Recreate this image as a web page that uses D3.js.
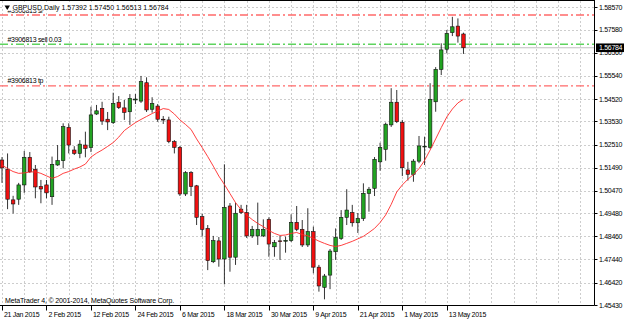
<!DOCTYPE html>
<html lang="en">
<head>
<meta charset="utf-8">
<title>GBPUSD Daily</title>
<script src="https://d3js.org/d3.v7.min.js"></script>
<style>
  body { margin: 0; background: #fff; }
  svg { display: block; }
  .lbl { font-family: "Liberation Sans", Arial, sans-serif; font-size: 7px; fill: #000; letter-spacing: -0.3px; }
  .title { letter-spacing: 0px; }
  .mark { letter-spacing: -0.15px; }
</style>
</head>
<body>
<svg width="625" height="320"></svg>
<script>
// trading days shown on the chart
const dates = [
  "2015-01-21","2015-01-22","2015-01-23","2015-01-26","2015-01-27","2015-01-28","2015-01-29","2015-01-30",
  "2015-02-02","2015-02-03","2015-02-04","2015-02-05","2015-02-06","2015-02-09","2015-02-10","2015-02-11",
  "2015-02-12","2015-02-13","2015-02-16","2015-02-17","2015-02-18","2015-02-19","2015-02-20","2015-02-23",
  "2015-02-24","2015-02-25","2015-02-26","2015-02-27","2015-03-02","2015-03-03","2015-03-04","2015-03-05",
  "2015-03-06","2015-03-09","2015-03-10","2015-03-11","2015-03-12","2015-03-13","2015-03-16","2015-03-17",
  "2015-03-18","2015-03-19","2015-03-20","2015-03-23","2015-03-24","2015-03-25","2015-03-26","2015-03-27",
  "2015-03-30","2015-03-31","2015-04-01","2015-04-02","2015-04-03","2015-04-06","2015-04-07","2015-04-08",
  "2015-04-09","2015-04-10","2015-04-13","2015-04-14","2015-04-15","2015-04-16","2015-04-17","2015-04-20",
  "2015-04-21","2015-04-22","2015-04-23","2015-04-24","2015-04-27","2015-04-28","2015-04-29","2015-04-30",
  "2015-05-01","2015-05-04","2015-05-05","2015-05-06","2015-05-07","2015-05-08","2015-05-11","2015-05-12",
  "2015-05-13","2015-05-14","2015-05-15","2015-05-18"
];

const open = [
  1.5183,1.5142,1.5007,1.5010,1.5073,1.5195,1.5142,1.5066,1.5073,1.5021,
  1.5161,1.5180,1.5327,1.5227,1.5212,1.5249,1.5238,1.5386,1.5411,1.5363,
  1.5348,1.5438,1.5413,1.5396,1.5448,1.5443,1.5524,1.5407,1.5421,1.5363,
  1.5360,1.5264,1.5239,1.5033,1.5127,1.5069,1.4933,1.4881,1.4734,1.4826,
  1.4746,1.4980,1.4754,1.4966,1.4951,1.4848,1.4848,1.4848,1.4921,1.4800,
  1.4826,1.4826,1.4827,1.4908,1.4877,1.4808,1.4867,1.4710,1.4621,1.4675,
  1.4778,1.4837,1.4930,1.4951,1.4906,1.4925,1.5036,1.5058,1.5175,1.5230,
  1.5338,1.5438,1.5349,1.5139,1.5120,1.5178,1.5242,1.5239,1.5440,1.5583,
  1.5672,1.5745,1.5774,1.57392
];
const high = [
  1.5196,1.5212,1.5025,1.5082,1.5223,1.5218,1.5161,1.5095,1.5095,1.5198,
  1.5249,1.5345,1.5345,1.5244,1.5271,1.5308,1.5418,1.5426,1.5440,1.5395,
  1.5480,1.5465,1.5448,1.5474,1.5474,1.5554,1.5548,1.5460,1.5430,1.5377,
  1.5374,1.5271,1.5245,1.5134,1.5134,1.5073,1.4945,1.4896,1.4848,1.4843,
  1.5164,1.4993,1.4995,1.4985,1.4985,1.4892,1.4995,1.4921,1.4930,1.4830,
  1.4848,1.4845,1.4943,1.4980,1.4918,1.4970,1.4889,1.4720,1.4680,1.4790,
  1.4881,1.4962,1.5054,1.4985,1.4949,1.5080,1.5064,1.5196,1.5259,1.5348,
  1.5500,1.5492,1.5360,1.5175,1.5187,1.5289,1.5286,1.5522,1.5593,1.5698,
  1.5757,1.5815,1.5808,1.57450
];
const low = [
  1.5082,1.4966,1.4947,1.4985,1.5038,1.5126,1.5014,1.4992,1.5014,1.4985,
  1.5157,1.5146,1.5212,1.5205,1.5191,1.5195,1.5218,1.5382,1.5338,1.5315,
  1.5342,1.5408,1.5360,1.5338,1.5430,1.5435,1.5395,1.5392,1.5352,1.5342,
  1.5257,1.5212,1.5024,1.5024,1.5024,1.4896,1.4845,1.4697,1.4728,1.4712,
  1.4634,1.4690,1.4720,1.4945,1.4839,1.4839,1.4808,1.4843,1.4756,1.4756,
  1.4742,1.4774,1.4821,1.4869,1.4799,1.4799,1.4683,1.4602,1.4568,1.4613,
  1.4742,1.4830,1.4896,1.4889,1.4861,1.4914,1.4955,1.5024,1.5136,1.5180,
  1.5329,1.5346,1.5112,1.5092,1.5087,1.5169,1.5161,1.5232,1.5396,1.5558,
  1.5654,1.5730,1.5701,1.56513
];
const close = [
  1.5148,1.5010,1.4989,1.5073,1.5195,1.5131,1.5064,1.5055,1.5038,1.5164,
  1.5180,1.5330,1.5249,1.5212,1.5253,1.5234,1.5382,1.5400,1.5355,1.5351,
  1.5433,1.5414,1.5393,1.5455,1.5452,1.5529,1.5404,1.5433,1.5363,1.5361,
  1.5264,1.5239,1.5033,1.5127,1.5066,1.4930,1.4877,1.4739,1.4827,1.4746,
  1.4974,1.4754,1.4948,1.4951,1.4848,1.4877,1.4877,1.4877,1.4812,1.4818,
  1.4823,1.4828,1.4908,1.4877,1.4808,1.4867,1.4710,1.4627,1.4671,1.4781,
  1.4842,1.4930,1.4962,1.4906,1.4925,1.5036,1.5054,1.5186,1.5239,1.5341,
  1.5438,1.5352,1.5149,1.5120,1.5178,1.5245,1.5244,1.5451,1.5583,1.5669,
  1.5742,1.5771,1.5730,1.56784
];
// red moving average
const ma = [
  1.5161,1.5145,1.5132,1.5124,1.5126,1.5130,1.5131,1.5124,1.5113,1.5102,
  1.5110,1.5124,1.5132,1.5143,1.5152,1.5165,1.5196,1.5213,1.5227,1.5243,
  1.5260,1.5284,1.5313,1.5331,1.5348,1.5362,1.5375,1.5388,1.5399,1.5410,
  1.5406,1.5386,1.5360,1.5340,1.5318,1.5276,1.5238,1.5198,1.5156,1.5112,
  1.5075,1.5035,1.4995,1.4964,1.4940,1.4920,1.4903,1.4889,1.4872,1.4859,
  1.4850,1.4852,1.4859,1.4863,1.4854,1.4848,1.4837,1.4825,1.4815,1.4806,
  1.4801,1.4806,1.4815,1.4824,1.4835,1.4846,1.4863,1.4881,1.4907,1.4940,
  1.4987,1.5042,1.5073,1.5098,1.5119,1.5145,1.5181,1.5227,1.5276,1.5326,
  1.5373,1.5408,1.5435,1.5451
];

const priceTicks = [1.58570,1.57580,1.56560,1.55540,1.54520,1.53530,1.52510,1.51490,1.50470,1.49480,1.48460,1.47440,1.46420,1.45430];

// order lines: stop loss, open sell, take profit
const orderNames = ["#3906813 sl", "#3906813 sell 0.03", "#3906813 tp"];
const orderLevels = [1.5823, 1.5694, 1.5510];

const symbol = "GBPUSD,Daily";
const bid = 1.56784;

const svg = d3.select("svg");
const W = 625, H = 320;
const plotRight = 594.5, plotBottom = 305.5;

svg.append("rect").attr("width", W).attr("height", H).attr("fill", "#fff");

// one bar every 5.56px, first bar sits on the left edge
const x = d3.scaleLinear().domain([0, 80]).range([2, 446.8]);
const y = d3.scaleLinear().domain([1.45430, 1.58570]).range([305, 7.3]);

const fmt5 = d3.format(".5f");
const parse = d3.timeParse("%Y-%m-%d");
const fmtDate = d3.timeFormat("%-d %b %Y");

// grid
const grid = svg.append("g").attr("stroke", "#cdcdcd").attr("stroke-dasharray", "2,2").attr("stroke-width", 1);
grid.selectAll("line.h").data(priceTicks).enter().append("line")
  .attr("x1", 0).attr("x2", plotRight)
  .attr("y1", d => Math.round(y(d)) + 0.5).attr("y2", d => Math.round(y(d)) + 0.5);
const vIdx = d3.range(0, 200, 4).filter(i => x(i) < plotRight - 2);
grid.selectAll("line.v").data(vIdx).enter().append("line")
  .attr("x1", i => Math.round(x(i)) + 0.5).attr("x2", i => Math.round(x(i)) + 0.5)
  .attr("y1", 1).attr("y2", plotBottom);

// order lines
const orderColors = ["#ff6a6a", "#5fd35f", "#ff6a6a"];
svg.selectAll("line.order").data(orderLevels).enter().append("line")
  .attr("x1", 0).attr("x2", plotRight)
  .attr("y1", d => y(d)).attr("y2", d => y(d))
  .attr("stroke", (d, i) => orderColors[i])
  .attr("stroke-width", 1.3)
  .attr("stroke-dasharray", "8,3,2,3");

// bid line
svg.append("line")
  .attr("x1", 0).attr("x2", plotRight)
  .attr("y1", y(bid)).attr("y2", y(bid))
  .attr("stroke", "#c0c0c0").attr("stroke-width", 1);

// order labels (sl label sits under the title)
svg.selectAll("text.order").data(orderNames).enter().append("text")
  .attr("class", "lbl")
  .attr("x", 7.5)
  .attr("y", (d, i) => y(orderLevels[i]) - 2.5)
  .text(d => d);

// candles
const bars = d3.range(dates.length);
const candles = svg.append("g");
candles.selectAll("line.wick").data(bars).enter().append("line")
  .attr("x1", i => x(i)).attr("x2", i => x(i))
  .attr("y1", i => y(high[i])).attr("y2", i => y(low[i]))
  .attr("stroke", "#000").attr("stroke-width", 0.8);
candles.selectAll("rect.body").data(bars).enter().append("rect")
  .attr("x", i => x(i) - 1.75)
  .attr("width", 3.5)
  .attr("y", i => y(Math.max(open[i], close[i])))
  .attr("height", i => Math.max(0.8, Math.abs(y(open[i]) - y(close[i]))))
  .attr("fill", i => close[i] >= open[i] ? "#22a322" : "#f01010")
  .attr("stroke", "#111").attr("stroke-width", 0.6);

// moving average
svg.append("path")
  .datum(bars)
  .attr("fill", "none")
  .attr("stroke", "#ff2a2a")
  .attr("stroke-width", 0.9)
  .attr("d", d3.line().x(i => x(i)).y(i => y(ma[i])));

// frame
svg.append("line").attr("x1", 0).attr("x2", plotRight).attr("y1", 0.5).attr("y2", 0.5).attr("stroke", "#000");
svg.append("line").attr("x1", plotRight).attr("x2", plotRight).attr("y1", 0).attr("y2", plotBottom).attr("stroke", "#000");
svg.append("line").attr("x1", 0).attr("x2", plotRight).attr("y1", plotBottom).attr("y2", plotBottom).attr("stroke", "#000");

// price axis
const pAxis = svg.append("g");
pAxis.selectAll("line").data(priceTicks).enter().append("line")
  .attr("x1", plotRight).attr("x2", plotRight + 3)
  .attr("y1", d => Math.round(y(d)) + 0.5).attr("y2", d => Math.round(y(d)) + 0.5)
  .attr("stroke", "#000");
pAxis.selectAll("text").data(priceTicks).enter().append("text")
  .attr("class", "lbl")
  .attr("x", 599)
  .attr("y", d => Math.max(y(d), 5) + 2.5)
  .text(d => fmt5(d));

// bid marker
svg.append("rect").attr("x", 596).attr("y", y(bid) - 4.3).attr("width", 28).attr("height", 8.6).attr("fill", "#000");
svg.append("text").attr("class", "lbl").attr("x", 599).attr("y", y(bid) + 2.5)
  .style("fill", "#fff").text(fmt5(bid));

// date axis
const dIdx = bars.filter(i => i % 8 === 0);
const dAxis = svg.append("g");
dAxis.selectAll("line").data(dIdx).enter().append("line")
  .attr("x1", i => Math.round(x(i)) + 0.5).attr("x2", i => Math.round(x(i)) + 0.5)
  .attr("y1", plotBottom).attr("y2", plotBottom + 5)
  .attr("stroke", "#000");
dAxis.selectAll("text").data(dIdx).enter().append("text")
  .attr("class", "lbl")
  .attr("x", i => x(i) + 2)
  .attr("y", 316.5)
  .text(i => fmtDate(parse(dates[i])));

// title over the sl label
const last = dates.length - 1;
svg.append("rect").attr("x", 3).attr("y", 2).attr("width", 170).attr("height", 8.5).attr("fill", "#fff");
svg.append("path").attr("d", "M4.5,5.5 L10,5.5 L7.25,10 Z").attr("fill", "#000");
svg.append("text").attr("class", "lbl title")
  .attr("x", 12.5).attr("y", 9.5)
  .text(symbol + "  " + [open[last], high[last], low[last], close[last]].map(fmt5).join(" "));

// watermark
svg.append("text").attr("class", "lbl mark")
  .attr("x", 5).attr("y", 302.5)
  .text("MetaTrader 4, \u00a9 2001-2014, MetaQuotes Software Corp.");
</script>
</body>
</html>
